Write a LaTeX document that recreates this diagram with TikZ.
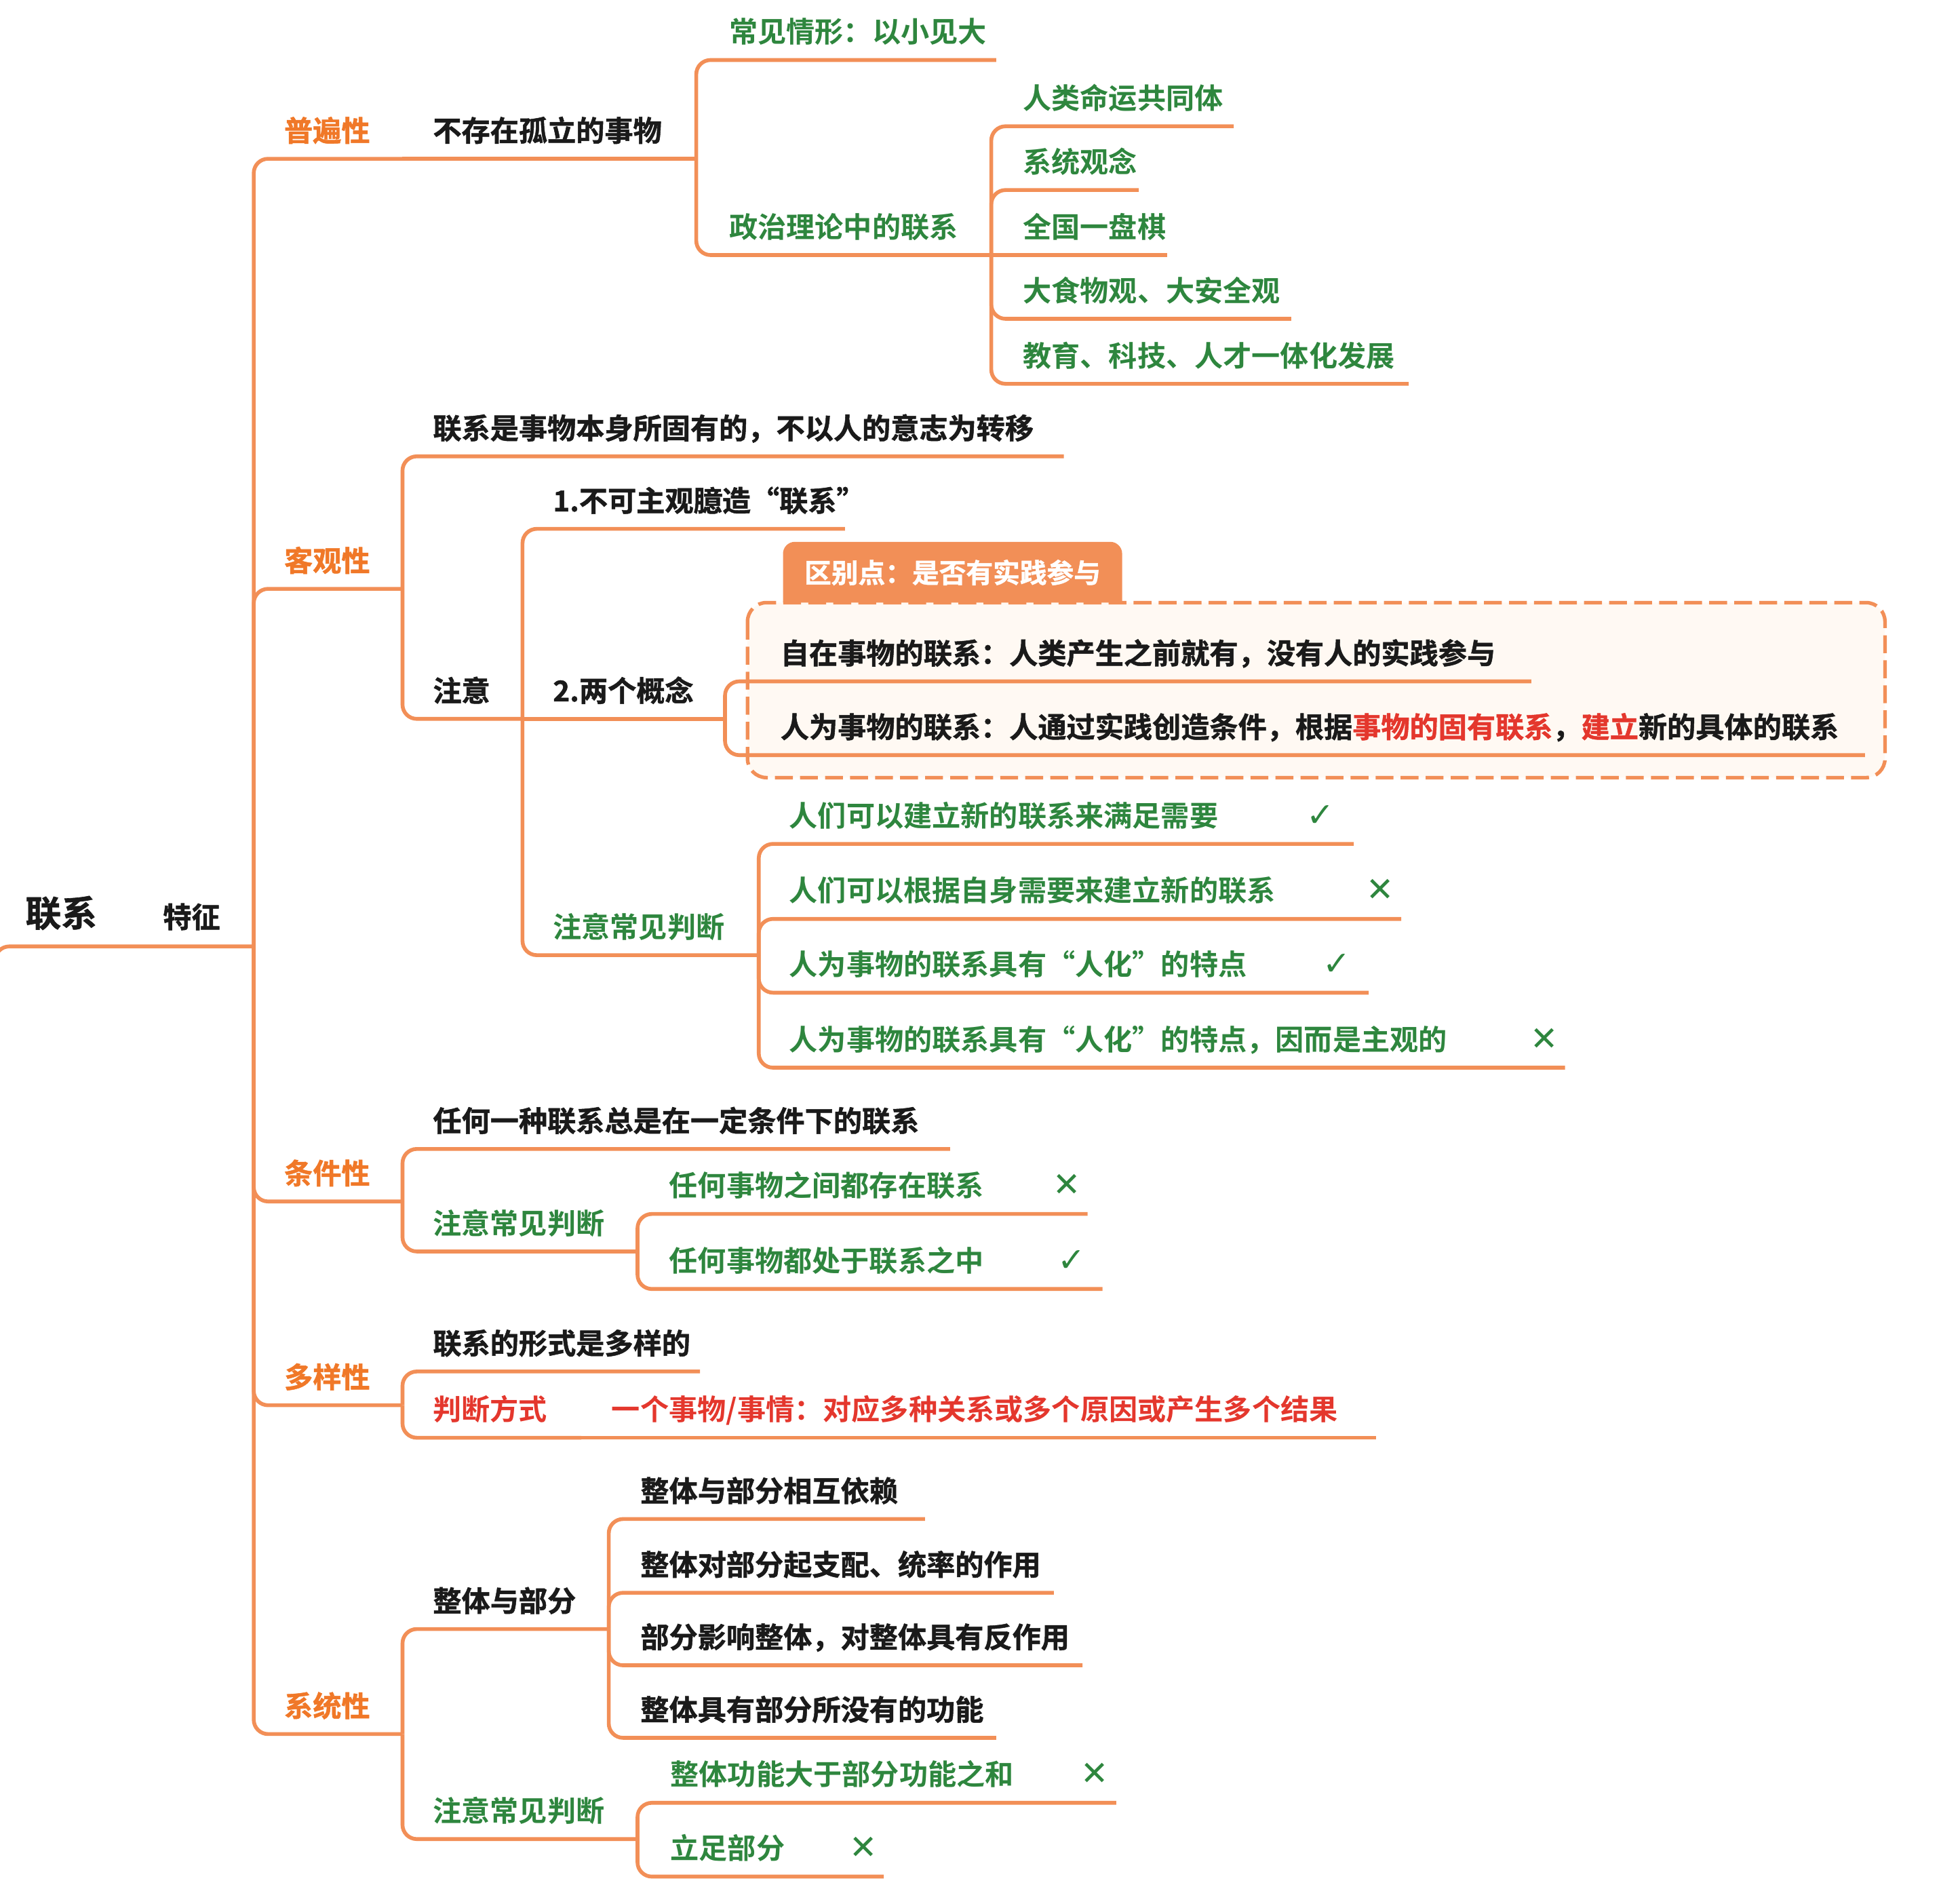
\documentclass[tikz,border=0pt]{standalone}
\usepackage{fontspec}
\setmainfont{Noto Sans CJK SC}[BoldFont={Noto Sans CJK SC Bold}]
\newfontfamily\heavyfont{Noto Sans CJK SC}[BoldFont={Noto Sans CJK SC Bold}, BoldFeatures={FakeBold=1.2}]
\newfontfamily\markfont{DejaVu Sans}
\usepackage{tikz}
\usetikzlibrary{positioning}
\definecolor{branch}{RGB}{242,143,87}
\definecolor{catorange}{RGB}{240,120,40}
\definecolor{ink}{RGB}{26,26,26}
\definecolor{judge}{RGB}{46,134,62}
\definecolor{alert}{RGB}{228,55,45}
\definecolor{cream}{RGB}{255,249,243}
\tikzset{
    link/.style={draw=branch, line width=1.6pt, rounded corners=6pt},
    topic/.style={anchor=base west, inner sep=0pt, font=\heavyfont\bfseries\fontsize{12}{14}\selectfont, text=ink},
    category/.style={topic, text=catorange},
    judgement/.style={topic, font=\bfseries\fontsize{12}{14}\selectfont, text=judge},
    method/.style={judgement, text=alert},
    roottopic/.style={topic, font=\heavyfont\bfseries\fontsize{15}{18}\selectfont},
    tab/.style={anchor=north west, fill=branch, rounded corners=5pt, text=white, font=\heavyfont\bfseries\fontsize{11.3}{13}\selectfont, inner xsep=9pt, inner ysep=7.3pt, text height=9.9pt, text depth=7.3pt},
    dashbox/.style={draw=branch, fill=cream, line width=1.5pt, dash pattern=on 7.5pt off 3pt, rounded corners=8pt}
}
\newcommand{\markok}[1]{\hspace{#1}{\markfont\fontsize{14}{14}\selectfont ✓}}
\newcommand{\markno}[1]{\hspace{#1}{\markfont\fontsize{14}{14}\selectfont ✕}}

\begin{document}
\begin{tikzpicture}[x=0.018431cm, y=-0.018431cm]
    \useasboundingbox (0,0) rectangle (1568,1521);
    % Distinction tab and dashed frame
    \node[tab] (tab) at (626,433) {区别点：是否有实践参与};
    \draw[dashbox] (598,482) rectangle (1508,622);

    % Root
    \node[roottopic] (lx) at (20,741) {联系};
    \node[topic] (tz) at (130,742) {特征};
    \coordinate (lxS) at (-4,830);
    \coordinate (lxE) at (112,757);
    \coordinate (tzE) at (203,757);

    % Features
    \node[category] (pb) at (227,113) {普遍性};   \coordinate (pbE) at (322,127);
    \node[category] (kg) at (227,457) {客观性};   \coordinate (kgE) at (322,471);
    \node[category] (tj) at (227,947) {条件性};   \coordinate (tjE) at (322,961);
    \node[category] (dy) at (227,1110) {多样性};  \coordinate (dyE) at (322,1124);
    \node[category] (xt) at (227,1373) {系统性};  \coordinate (xtE) at (322,1387);

    % Universality
    \node[topic] (gl) at (346,113) {不存在孤立的事物};  \coordinate (glE) at (557,127);
    \node[judgement] (cj) at (583,34) {常见情形：以小见大};  \coordinate (cjE) at (797,48);
    \node[judgement] (zz) at (583,190) {政治理论中的联系};  \coordinate (zzE) at (793,204);
    \node[judgement] (rl) at (818,87) {人类命运共同体};  \coordinate (rlE) at (987,101);
    \node[judgement] (xg) at (818,138) {系统观念};  \coordinate (xgE) at (911,152);
    \node[judgement] (qg) at (818,190) {全国一盘棋};  \coordinate (qgE) at (934,204);
    \node[judgement] (ds) at (818,241) {大食物观、大安全观};  \coordinate (dsE) at (1033,255);
    \node[judgement] (jy) at (818,293) {教育、科技、人才一体化发展};  \coordinate (jyE) at (1127,307);

    % Objectivity
    \node[topic] (gy) at (346,351) {联系是事物本身所固有的，不以人的意志为转移};  \coordinate (gyE) at (851,365);
    \node[topic] (zy) at (346,561) {注意};  \coordinate (zyE) at (418,575);
    \node[topic] (bk) at (442,409) {1.不可主观臆造“联系”};  \coordinate (bkE) at (676,423);
    \node[topic] (lg) at (442,561) {2.两个概念};  \coordinate (lgE) at (580,575);
    \node[topic] (zs) at (624,531) {自在事物的联系：人类产生之前就有，没有人的实践参与};  \coordinate (zsE) at (1225,545);
    \node[topic] (rw) at (624,590) {人为事物的联系：人通过实践创造条件，根据{\color{alert}事物的固有联系}，{\color{alert}建立}新的具体的联系};  \coordinate (rwE) at (1492,604);
    \node[judgement] (zp) at (442,750) {注意常见判断};  \coordinate (zpE) at (607,764);
    \node[judgement] (p1) at (631,661) {人们可以建立新的联系来满足需要\markok{37pt}};  \coordinate (p1E) at (1083,675);
    \node[judgement] (p2) at (631,721) {人们可以根据自身需要来建立新的联系\markno{38pt}};  \coordinate (p2E) at (1121,735);
    \node[judgement] (p3) at (631,780) {人为事物的联系具有“人化”的特点\markok{32pt}};  \coordinate (p3E) at (1095,794);
    \node[judgement] (p4) at (631,840) {人为事物的联系具有“人化”的特点，因而是主观的\markno{35pt}};  \coordinate (p4E) at (1252,854);

    % Conditionality
    \node[topic] (tg) at (346,905) {任何一种联系总是在一定条件下的联系};  \coordinate (tgE) at (760,919);
    \node[judgement] (tp) at (346,987) {注意常见判断};  \coordinate (tpE) at (510,1001);
    \node[judgement] (t1) at (535,957) {任何事物之间都存在联系\markno{29pt}};  \coordinate (t1E) at (870,971);
    \node[judgement] (t2) at (535,1017) {任何事物都处于联系之中\markok{31pt}};  \coordinate (t2E) at (882,1031);

    % Diversity
    \node[topic] (dx) at (346,1083) {联系的形式是多样的};  \coordinate (dxE) at (560,1097);
    \node[method] (dp) at (346,1136) {判断方式};  \coordinate (dpE) at (465,1150);
    \node[method] (dj) at (489,1136) {一个事物/事情：对应多种关系或多个原因或产生多个结果};  \coordinate (djE) at (1101,1150);

    % Systematicness
    \node[topic] (zb) at (346,1289) {整体与部分};  \coordinate (zbE) at (487,1303);
    \node[judgement] (xp) at (346,1457) {注意常见判断};  \coordinate (xpE) at (510,1471);
    \node[topic] (z1) at (512,1201) {整体与部分相互依赖};  \coordinate (z1E) at (740,1215);
    \node[topic] (z2) at (512,1260) {整体对部分起支配、统率的作用};  \coordinate (z2E) at (843,1274);
    \node[topic] (z3) at (512,1318) {部分影响整体，对整体具有反作用};  \coordinate (z3E) at (866,1332);
    \node[topic] (z4) at (512,1376) {整体具有部分所没有的功能};  \coordinate (z4E) at (797,1390);
    \node[judgement] (x1) at (536,1428) {整体功能大于部分功能之和\markno{28pt}};  \coordinate (x1E) at (893,1442);
    \node[judgement] (x2) at (536,1487) {立足部分\markno{27pt}};  \coordinate (x2E) at (707,1501);

    % Connections
    \draw[link] (lxS) |- (lxE) -- (tzE);
    \draw[link] (tzE) |- (pbE);    \draw[link] (tzE) |- (kgE);
    \draw[link] (tzE) |- (tjE);    \draw[link] (tzE) |- (dyE);
    \draw[link] (tzE) |- (xtE);
    \draw[link] (pbE) -- (glE);
    \draw[link] (glE) |- (cjE);    \draw[link] (glE) |- (zzE);
    \draw[link] (zzE) |- (rlE);    \draw[link] (zzE) |- (xgE);
    \draw[link] (zzE) -- (qgE);
    \draw[link] (zzE) |- (dsE);    \draw[link] (zzE) |- (jyE);
    \draw[link] (kgE) |- (gyE);    \draw[link] (kgE) |- (zyE);
    \draw[link] (zyE) |- (bkE);    \draw[link] (zyE) -- (lgE);
    \draw[link] (zyE) |- (zpE);
    \draw[link] (lgE) |- (zsE);    \draw[link] (lgE) |- (rwE);
    \draw[link] (zpE) |- (p1E);    \draw[link] (zpE) |- (p2E);
    \draw[link] (zpE) |- (p3E);    \draw[link] (zpE) |- (p4E);
    \draw[link] (tjE) |- (tgE);    \draw[link] (tjE) |- (tpE);
    \draw[link] (tpE) |- (t1E);    \draw[link] (tpE) |- (t2E);
    \draw[link] (dyE) |- (dxE);    \draw[link] (dyE) |- (dpE);
    \draw[link] (dpE) -- (djE);
    \draw[link] (xtE) |- (zbE);    \draw[link] (xtE) |- (xpE);
    \draw[link] (zbE) |- (z1E);    \draw[link] (zbE) |- (z2E);
    \draw[link] (zbE) |- (z3E);    \draw[link] (zbE) |- (z4E);
    \draw[link] (xpE) |- (x1E);    \draw[link] (xpE) |- (x2E);
\end{tikzpicture}
\end{document}
